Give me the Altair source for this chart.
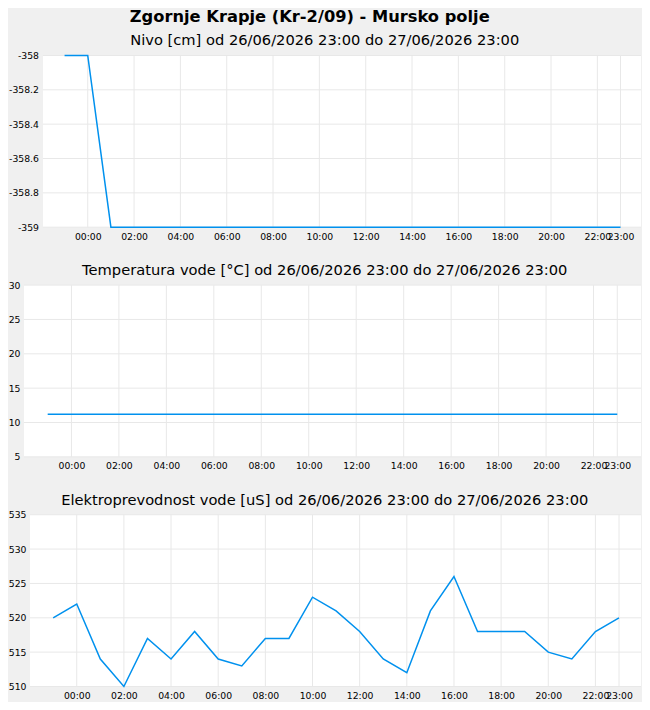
import altair as alt
import pandas as pd

# ---- data ----
times = [
    "2026-06-26T23:00:00Z", "2026-06-27T00:00:00Z", "2026-06-27T01:00:00Z",
    "2026-06-27T02:00:00Z", "2026-06-27T03:00:00Z", "2026-06-27T04:00:00Z",
    "2026-06-27T05:00:00Z", "2026-06-27T06:00:00Z", "2026-06-27T07:00:00Z",
    "2026-06-27T08:00:00Z", "2026-06-27T09:00:00Z", "2026-06-27T10:00:00Z",
    "2026-06-27T11:00:00Z", "2026-06-27T12:00:00Z", "2026-06-27T13:00:00Z",
    "2026-06-27T14:00:00Z", "2026-06-27T15:00:00Z", "2026-06-27T16:00:00Z",
    "2026-06-27T17:00:00Z", "2026-06-27T18:00:00Z", "2026-06-27T19:00:00Z",
    "2026-06-27T20:00:00Z", "2026-06-27T21:00:00Z", "2026-06-27T22:00:00Z",
    "2026-06-27T23:00:00Z",
]
nivo = [-358, -358, -359, -359, -359, -359, -359, -359, -359, -359, -359, -359,
        -359, -359, -359, -359, -359, -359, -359, -359, -359, -359, -359, -359, -359]
temperatura = [11.2, 11.2, 11.2, 11.2, 11.2, 11.2, 11.2, 11.2, 11.2, 11.2, 11.2, 11.2,
               11.2, 11.2, 11.2, 11.2, 11.2, 11.2, 11.2, 11.2, 11.2, 11.2, 11.2, 11.2, 11.2]
prevodnost = [520, 522, 514, 510, 517, 514, 518, 514, 513, 517, 517, 523,
              521, 518, 514, 512, 521, 526, 518, 518, 518, 515, 514, 518, 520]

tick_hours = [0, 2, 4, 6, 8, 10, 12, 14, 16, 18, 20, 22, 23]

main_title = "Zgornje Krapje (Kr-2/09) - Mursko polje"
titles = [
    "Nivo [cm] od 26/06/2026 23:00 do 27/06/2026 23:00",
    "Temperatura vode [°C] od 26/06/2026 23:00 do 27/06/2026 23:00",
    "Elektroprevodnost vode [uS] od 26/06/2026 23:00 do 27/06/2026 23:00",
]
y_domains = [[-359, -358], [5, 30], [510, 535]]
y_ticks = [
    [-359, -358.8, -358.6, -358.4, -358.2, -358],
    [5, 10, 15, 20, 25, 30],
    [510, 515, 520, 525, 530, 535],
]

COLOR = "#0091ee"
GRID = "#e8e8e8"
FONT = "DejaVu Sans"

x_ticks = [alt.DateTime(year=2026, month=6, date=27, hours=h, utc=True) for h in tick_hours]
tick_times = ["2026-06-27T%02d:00:00Z" % h for h in tick_hours]


def dt(day, h, m=0):
    return alt.DateTime(year=2026, month=6, date=day, hours=h, minutes=m, utc=True)


def panel(values, idx, yvals, yfmt, lpad, xdom, area):
    ydom = y_domains[idx]
    xs = alt.Scale(type="utc", domain=xdom)
    xa = alt.Axis(values=x_ticks, format="%H:%M", title=None, grid=False,
                  labelOverlap=False, labelFlush=False, labelPadding=5)
    ys = alt.Scale(domain=ydom, nice=False, zero=False)
    ya = alt.Axis(values=yvals, format=yfmt, title=None, grid=False,
                  labelExpr="replace(datum.label, '\u2212', '-')",
                  minExtent=35, maxExtent=35, labelPadding=lpad)

    bg = alt.Chart(pd.DataFrame({"k": [0]})).mark_rect(fill="white").encode(
        x=alt.X(datum=area[0], type="temporal", scale=xs, axis=xa),
        x2=alt.X2(datum=area[1]),
        y=alt.Y(datum=ydom[0], type="quantitative", scale=ys, axis=ya),
        y2=alt.Y2(datum=ydom[1]),
    )
    hgrid = alt.Chart(pd.DataFrame({"v": yvals})).mark_rule(color=GRID, strokeWidth=1).encode(
        x=alt.X(datum=area[0], type="temporal", scale=xs, axis=xa),
        x2=alt.X2(datum=area[1]),
        y=alt.Y("v:Q", scale=ys, axis=ya),
    )
    vgrid = alt.Chart(pd.DataFrame({"t": tick_times})).mark_rule(color=GRID, strokeWidth=1).encode(
        x=alt.X("t:T", scale=xs, axis=xa),
        y=alt.Y(datum=ydom[0], type="quantitative", scale=ys, axis=ya),
        y2=alt.Y2(datum=ydom[1]),
    )
    line = alt.Chart(pd.DataFrame({"t": times, "v": values})).mark_line(
        color=COLOR, strokeWidth=1.5
    ).encode(
        x=alt.X("t:T", scale=xs, axis=xa),
        y=alt.Y("v:Q", scale=ys, axis=ya),
    )
    return alt.layer(bg, hgrid, vgrid, line).properties(
        width=599,
        height=172,
        title=alt.TitleParams(titles[idx], fontSize=14.7, font=FONT,
                              fontWeight="normal", frame="bounds",
                              anchor="middle", offset=3.5, color="black"),
    )


p1 = panel(nivo, 0, y_ticks[0], ".1~f", 4.5,
           [dt(26, 22, 4), dt(27, 23, 53)], [dt(26, 22, 4), dt(27, 23, 53)])
p2 = panel(temperatura, 1, y_ticks[1], "d", 23,
           [dt(26, 22, 48), dt(28, 0)], [dt(26, 22), dt(28, 0)])
p3 = panel(prevodnost, 2, y_ticks[2], "d", 17,
           [dt(26, 22, 34), dt(27, 23, 56)], [dt(26, 22, 1), dt(27, 23, 56)])

chart = (
    alt.vconcat(p1, p2, p3, spacing=20)
    .properties(
        title=alt.TitleParams(main_title, anchor="start", dx=122, fontSize=16.3,
                              font=FONT, fontWeight="bold", color="black", offset=8),
        padding={"left": 0, "top": 0, "right": 0, "bottom": 0},
    )
    .configure(background="#f0f0f0")
    .configure_view(strokeWidth=0)
    .configure_axis(ticks=False, domain=False,
                    labelFont=FONT, labelFontSize=9.3, labelColor="black")
)

chart.save("out.html", embed_options={"renderer": "svg", "actions": False})
